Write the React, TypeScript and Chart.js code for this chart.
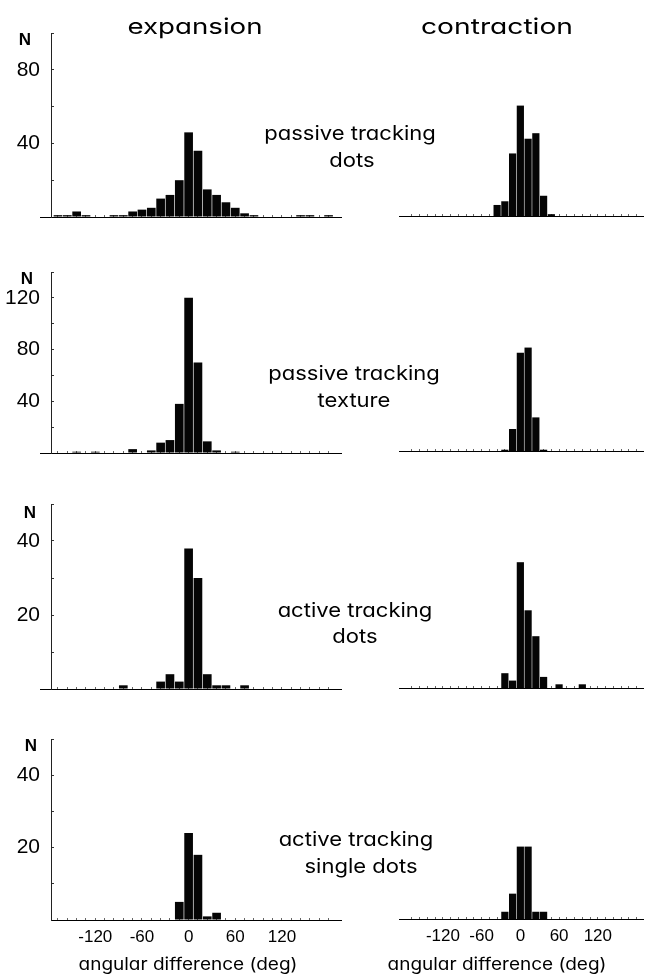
import React, { useEffect, useLayoutEffect, useRef, useState } from 'react';
import { Chart, registerables } from 'chart.js';

Chart.register(...registerables);

// ---------- data ----------
const BIN_CENTERS = [-168, -156, -144, -132, -120, -108, -96, -84, -72, -60, -48, -36, -24, -12, 0, 12, 24, 36, 48, 60, 72, 84, 96, 108, 120, 132, 144, 156, 168, 180];
const X_TICK_LABELS = [-120, -60, 0, 60, 120];

const EXP_PASSIVE_DOTS = [1, 1, 3, 1, 0, 0, 1, 1, 3, 4, 5, 10, 12, 20, 46, 36, 15, 12, 8, 5, 2, 1, 0, 0, 0, 0, 1, 1, 0, 1];
const CON_PASSIVE_DOTS = [0, 0, 0, 0, 0, 0, 0, 0, 0, 0, 0, 6, 8, 34, 60, 42, 45, 11, 1, 0, 0, 0, 0, 0, 0, 0, 0, 0, 0, 0];
const EXP_PASSIVE_TEXTURE = [0, 0, 1, 0, 1, 0, 0, 0, 3, 0, 2, 8, 10, 38, 120, 70, 9, 2, 0, 1, 0, 0, 0, 0, 0, 0, 0, 0, 0, 0];
const CON_PASSIVE_TEXTURE = [0, 0, 0, 0, 0, 0, 0, 0, 0, 0, 0, 0, 1, 17, 76, 80, 26, 1, 0, 0, 0, 0, 0, 0, 0, 0, 0, 0, 0, 0];
const EXP_ACTIVE_DOTS = [0, 0, 0, 0, 0, 0, 0, 1, 0, 0, 0, 2, 4, 2, 38, 30, 4, 1, 1, 0, 1, 0, 0, 0, 0, 0, 0, 0, 0, 0];
const CON_ACTIVE_DOTS = [0, 0, 0, 0, 0, 0, 0, 0, 0, 0, 0, 0, 4, 2, 34, 21, 14, 3, 0, 1, 0, 0, 1, 0, 0, 0, 0, 0, 0, 0];
const EXP_ACTIVE_SINGLE = [0, 0, 0, 0, 0, 0, 0, 0, 0, 0, 0, 0, 0, 5, 24, 18, 1, 2, 0, 0, 0, 0, 0, 0, 0, 0, 0, 0, 0, 0];
const CON_ACTIVE_SINGLE = [0, 0, 0, 0, 0, 0, 0, 0, 0, 0, 0, 0, 2, 7, 20, 20, 2, 2, 0, 0, 0, 0, 0, 0, 0, 0, 0, 0, 0, 0];

const Y_MAX_ROWS = [100, 140, 50, 50];
const Y_TICKS_ROW1 = [40, 80];
const Y_TICKS_ROW2 = [40, 80, 120];
const Y_TICKS_ROW3 = [20, 40];
const Y_TICKS_ROW4 = [20, 40];
const Y_MINOR_ROW1 = [20, 40, 60, 80, 100];
const Y_MINOR_ROW2 = [20, 40, 60, 80, 100, 120, 140];
const Y_MINOR_ROW3 = [10, 20, 30, 40, 50];
const Y_MINOR_ROW4 = [10, 20, 30, 40, 50];

const COLUMN_TITLES = ['expansion', 'contraction'];
const CONDITION_LINES = [
  ['passive tracking', 'dots'],
  ['passive tracking', 'texture'],
  ['active tracking', 'dots'],
  ['active tracking', 'single dots'],
];
const X_TITLE = 'angular difference (deg)';
const Y_TITLE = 'N';

// ---------- layout ----------
const ROWS = [
  { top: 33, bottom: 217, rBottom: 216, yMax: Y_MAX_ROWS[0], yTicks: Y_TICKS_ROW1, yMinor: Y_MINOR_ROW1, left: EXP_PASSIVE_DOTS, right: CON_PASSIVE_DOTS, ext: true, labels: false },
  { top: 272, bottom: 453, rBottom: 451, yMax: Y_MAX_ROWS[1], yTicks: Y_TICKS_ROW2, yMinor: Y_MINOR_ROW2, left: EXP_PASSIVE_TEXTURE, right: CON_PASSIVE_TEXTURE, ext: true, labels: false },
  { top: 504, bottom: 689, rBottom: 688, yMax: Y_MAX_ROWS[2], yTicks: Y_TICKS_ROW3, yMinor: Y_MINOR_ROW3, left: EXP_ACTIVE_DOTS, right: CON_ACTIVE_DOTS, ext: true, labels: false },
  { top: 739, bottom: 920, rBottom: 919, yMax: Y_MAX_ROWS[3], yTicks: Y_TICKS_ROW4, yMinor: Y_MINOR_ROW4, left: EXP_ACTIVE_SINGLE, right: CON_ACTIVE_SINGLE, ext: false, labels: true },
];

const PAD_TOP = 4;
const NUM_FONT = "'Liberation Sans', Arial, sans-serif";
const TEXT_FONT = "Inter, 'DejaVu Sans', sans-serif";

type PanelProps = {
  x: number; y: number; w: number; h: number;
  values: number[]; yMax: number; yTicks: number[]; yMinor: number[];
  yAxis: boolean; ext: boolean; labels: boolean;
  xMin: number; xMax: number; padLeft: number; padRight: number; xAxisH: number;
};

function Panel(p: PanelProps) {
  const ref = useRef<HTMLCanvasElement>(null);
  useEffect(() => {
    if (!ref.current) return;
    const chart = new Chart(ref.current, {
      type: 'bar',
      data: {
        datasets: [{
          data: BIN_CENTERS.map((x, i) => ({ x, y: p.values[i] })),
          xAxisID: 'x',
          yAxisID: 'y',
          backgroundColor: '#050505',
          borderWidth: 0,
          barPercentage: 0.93,
          categoryPercentage: 1,
        }],
      },
      options: {
        animation: false,
        responsive: false,
        maintainAspectRatio: false,
        events: [],
        layout: { padding: { left: p.padLeft, right: p.padRight, top: PAD_TOP, bottom: 0 } },
        plugins: { legend: { display: false }, tooltip: { enabled: false }, title: { display: false } },
        scales: {
          x: {
            type: 'linear',
            min: p.xMin,
            max: p.xMax,
            offset: false,
            grid: { display: true, drawOnChartArea: false, drawTicks: true, tickLength: -2, color: '#666', offset: false },
            border: { display: true, color: '#000', width: 1 },
            ticks: {
              display: p.labels,
              autoSkip: false,
              maxRotation: 0,
              minRotation: 0,
              padding: 9,
              color: '#000',
              font: { family: NUM_FONT, size: 17 },
              callback: (v: any) => (X_TICK_LABELS.includes(Number(v)) ? String(v) : ''),
            },
            afterBuildTicks: (s: any) => { s.ticks = BIN_CENTERS.map((v) => ({ value: v })); },
            afterFit: (s: any) => { s.height = p.xAxisH; s.paddingLeft = 0; s.paddingRight = 0; },
          } as any,
          y: {
            display: p.yAxis,
            position: 'left',
            weight: 1,
            min: 0,
            max: p.yMax,
            grid: {
              display: true,
              drawOnChartArea: false,
              drawTicks: true,
              tickLength: 11,
              color: (ctx: any) => (p.ext && ctx.tick && ctx.tick.value === 0 ? '#000' : 'rgba(0,0,0,0)'),
            },
            border: { display: true, color: '#222', width: 1 },
            ticks: {
              padding: 0,
              color: '#000',
              font: { family: NUM_FONT, size: 21 },
              callback: (v: any) => (Number(v) === 0 ? '' : String(v)),
            },
            afterBuildTicks: (s: any) => { s.ticks = [0, ...p.yTicks].map((v) => ({ value: v })); },
            afterFit: (s: any) => { s.width = 51; s.paddingTop = 0; s.paddingBottom = 0; },
          } as any,
          yMinor: {
            display: p.yAxis,
            position: 'left',
            weight: -1,
            min: 0,
            max: p.yMax,
            grid: { display: true, drawOnChartArea: false, drawTicks: true, tickLength: -3, color: '#333' },
            border: { display: false },
            ticks: { display: false },
            afterBuildTicks: (s: any) => { s.ticks = p.yMinor.map((v) => ({ value: v })); },
            afterFit: (s: any) => { s.width = 0; s.paddingTop = 0; s.paddingBottom = 0; },
          } as any,
        },
      },
    });
    return () => chart.destroy();
  }, []);
  return (
    <canvas
      ref={ref}
      width={p.w}
      height={p.h}
      style={{ position: 'absolute', left: p.x, top: p.y, width: p.w, height: p.h }}
    />
  );
}

type TextProps = {
  text: string; cx: number; baseline: number; size: number; family: string; weight?: number; ascent: number;
  fitText?: string; fitWidth?: number;
};

function measureWidth(text: string, size: number, family: string, weight: number) {
  const c = document.createElement('canvas');
  const ctx = c.getContext('2d');
  if (!ctx) return 0;
  ctx.font = `${weight} ${size}px ${family}`;
  return ctx.measureText(text).width;
}

function FitText({ text, cx, baseline, size, family, weight, ascent, fitText, fitWidth }: TextProps) {
  const [scale, setScale] = useState(1);
  useLayoutEffect(() => {
    const measure = () => {
      if (!fitWidth) return;
      const w = measureWidth(fitText ?? text, size, family, weight ?? 400);
      if (w > 0) setScale(fitWidth / w);
    };
    measure();
    const f = (document as any).fonts;
    if (f && f.ready) f.ready.then(measure);
  }, []);
  return (
    <span
      style={{
        position: 'absolute',
        left: cx,
        top: baseline - ascent * size,
        fontSize: size,
        lineHeight: `${size}px`,
        fontFamily: family,
        fontWeight: weight ?? 400,
        fontFeatureSettings: '"cv11"',
        whiteSpace: 'nowrap',
        color: '#000',
        transform: `translateX(-50%) scaleX(${scale})`,
        transformOrigin: '50% 50%',
      }}
    >
      {text}
    </span>
  );
}

const INTER_ASC = 0.864;
const LIB_ASC = 0.847;

export default function App() {
  const panels: PanelProps[] = [];
  ROWS.forEach((r) => {
    const xAxisH = r.labels ? 40 : 3;
    const hgt = r.bottom - r.top;
    panels.push({
      x: 0, y: r.top - PAD_TOP, w: 345, h: hgt + PAD_TOP + xAxisH,
      values: r.left, yMax: r.yMax, yTicks: r.yTicks, yMinor: r.yMinor, yAxis: true, ext: r.ext, labels: r.labels,
      xMin: -177, xMax: 196, padLeft: 0, padRight: 4, xAxisH,
    });
    panels.push({
      x: 345, y: r.rBottom - hgt - PAD_TOP, w: 300, h: hgt + PAD_TOP + xAxisH,
      values: r.right, yMax: r.yMax, yTicks: r.yTicks, yMinor: r.yMinor, yAxis: false, ext: false, labels: r.labels,
      xMin: -188, xMax: 190, padLeft: 3, padRight: 2, xAxisH,
    });
  });

  const condPos = [
    { cx: [350, 352], base: [140.5, 167.5] },
    { cx: [354, 354], base: [380.5, 407.5] },
    { cx: [355, 355], base: [617.5, 643] },
    { cx: [355.5, 361], base: [846.5, 873.5] },
  ];
  const nPos = [[25, 45], [27, 284.5], [30, 518], [31, 751]];

  return (
    <div style={{ position: 'absolute', left: 0, top: 0, width: 645, height: 978, background: '#fff', overflow: 'hidden' }}>
      {panels.map((p, i) => <Panel key={i} {...p} />)}
      <FitText text={COLUMN_TITLES[0]} cx={195} baseline={34.5} fitWidth={134} size={22} family={TEXT_FONT} ascent={INTER_ASC} />
      <FitText text={COLUMN_TITLES[1]} cx={497} baseline={34.5} fitWidth={151} size={22} family={TEXT_FONT} ascent={INTER_ASC} />
      {CONDITION_LINES.map((lines, r) =>
        lines.map((t, j) => (
          <FitText key={`c${r}${j}`} text={t} cx={condPos[r].cx[j]} baseline={condPos[r].base[j]} fitText="passive tracking" fitWidth={170} size={20} family={TEXT_FONT} ascent={INTER_ASC} />
        ))
      )}
      {nPos.map(([cx, b], i) => (
        <FitText key={`n${i}`} text={Y_TITLE} cx={cx} baseline={b} size={17} weight={700} family={NUM_FONT} ascent={LIB_ASC} />
      ))}
      <FitText text={X_TITLE} cx={188} baseline={971} fitWidth={217} size={17} family={TEXT_FONT} ascent={INTER_ASC} />
      <FitText text={X_TITLE} cx={497} baseline={971} fitWidth={217} size={17} family={TEXT_FONT} ascent={INTER_ASC} />
    </div>
  );
}
